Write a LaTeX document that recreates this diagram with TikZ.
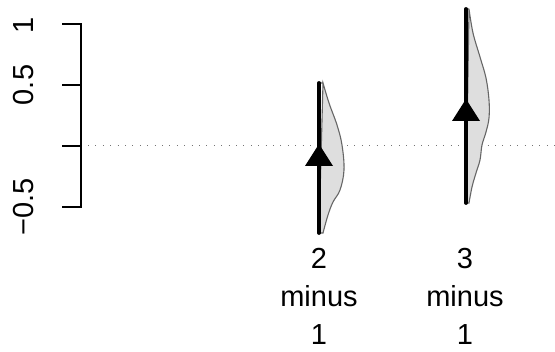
\documentclass[tikz,border=0pt]{standalone}
\usepackage{fontspec}
\setmainfont{Liberation Sans}
\begin{document}
\begin{tikzpicture}[x=1pt,y=-1pt,
  lbl/.style={font=\fontsize{29}{38}\selectfont, inner sep=0pt},
  violin/.style={draw=black!60, line width=1.1pt, fill=black!13},
  seg/.style={line width=3.8pt, line cap=round},
  tri/.style={fill=black}]
\useasboundingbox (0,0) rectangle (555,352);
% reference line
\draw[black!55, line width=1pt, dash pattern=on 1pt off 6.4pt] (88,146) -- (555,146);
% axis
\draw[line width=1.2pt] (62,24) -- (81,24) -- (81,207) -- (62,207);
\draw[line width=1.2pt] (62,85) -- (81,85);
\draw[line width=1.2pt] (62,146) -- (81,146);
\node[lbl, rotate=90] (t1) at (24,25) {1};
\node[lbl, rotate=90] (t05) at (24,85) {0.5};
\node[lbl, rotate=90] (tm05) at (24,207) {−0.5};
% group 2
\fill[violin] (319,83) -- (323,83) plot[smooth, tension=0.6] coordinates {(323,83) (329,103) (337,125) (342,145) (344,170) (340,190) (333,202) (328,215) (323,233)} -- (319,233) -- cycle;
\draw[seg] (319,83) -- (319,233);
\fill[tri] (305,166) -- (333,166) -- (319,144) -- cycle;
% group 3
\fill[violin] (466,9) -- (469,9) plot[smooth, tension=0.6] coordinates {(469,9) (473,33) (480,57) (486,78) (489,100) (489,118) (486,132) (482,145) (480,160) (476,173) (472,187) (469,203)} -- (466,203) -- cycle;
\draw[seg] (466,9) -- (466,203);
\fill[tri] (452,121) -- (480,121) -- (466,99) -- cycle;
% labels
\node[lbl, anchor=base] (g2a) at (319,269) {2};
\node[lbl, anchor=base] (g2b) at (319,307) {minus};
\node[lbl, anchor=base] (g2c) at (319,345) {1};
\node[lbl, anchor=base] (g3a) at (465,269) {3};
\node[lbl, anchor=base] (g3b) at (465,307) {minus};
\node[lbl, anchor=base] (g3c) at (465,345) {1};
\end{tikzpicture}
\end{document}
